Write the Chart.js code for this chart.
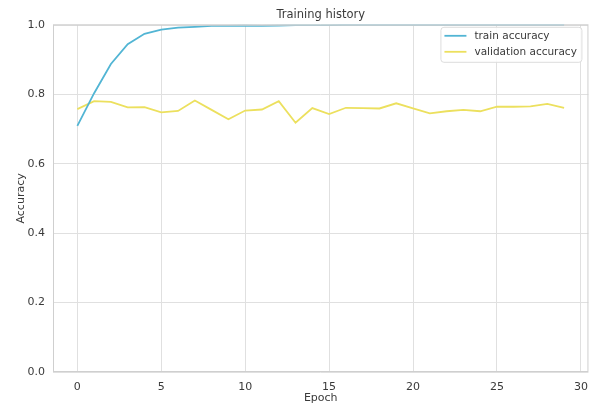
<!DOCTYPE html>
<html>
<head>
<meta charset="utf-8">
<script src="https://cdn.jsdelivr.net/npm/chart.js@4.4.1/dist/chart.umd.min.js"></script>
<style>
  html, body { margin: 0; padding: 0; background: #fff; }
  #wrap { width: 597px; height: 405px; }
</style>
</head>
<body>
<div id="wrap"><canvas id="chart"></canvas></div>
<script>
// values
const epochs = [0, 1, 2, 3, 4, 5, 6, 7, 8, 9, 10, 11, 12, 13, 14, 15, 16, 17, 18, 19, 20, 21, 22, 23, 24, 25, 26, 27, 28, 29];
const trainAcc = [0.709, 0.803, 0.887, 0.944, 0.974, 0.986, 0.992, 0.994, 0.997, 0.997, 0.998, 0.997, 0.998, 0.999, 0.999, 0.999, 1.0, 1.0, 1.0, 1.0, 1.0, 1.0, 1.0, 1.0, 1.0, 1.0, 1.0, 1.0, 1.0, 1.0];
const valAcc = [0.757, 0.780, 0.778, 0.762, 0.763, 0.748, 0.752, 0.782, 0.755, 0.728, 0.753, 0.756, 0.780, 0.718, 0.760, 0.743, 0.761, 0.760, 0.759, 0.774, 0.759, 0.745, 0.751, 0.755, 0.751, 0.764, 0.764, 0.765, 0.772, 0.761];
const xTicks = [0, 5, 10, 15, 20, 25, 30];
const yTicks = [0, 0.2, 0.4, 0.6, 0.8, 1.0];

const FONT = 'DejaVu Sans';
const TEXT = '#3a3a3a';

// frame around the plot, plus the boxed legend in the upper right
const framePlugin = {
  id: 'frame',
  afterDraw(chart) {
    const { ctx, chartArea: a } = chart;
    ctx.save();
    ctx.strokeStyle = '#cfcfcf';
    ctx.lineWidth = 1;
    ctx.strokeRect(a.left + 0.5, a.top + 0.5, a.right - a.left - 1, a.bottom - a.top - 1);

    const bx = a.right - 148, by = a.top + 2, bw = 141, bh = 35;
    ctx.fillStyle = 'rgba(255,255,255,0.85)';
    ctx.strokeStyle = '#dddddd';
    ctx.beginPath();
    ctx.roundRect(bx + 0.5, by + 0.5, bw, bh, 3);
    ctx.fill();
    ctx.stroke();

    ctx.font = '10.5px "' + FONT + '"';
    ctx.textBaseline = 'middle';
    chart.data.datasets.forEach((ds, i) => {
      const y = by + 9 + i * 16;
      ctx.strokeStyle = ds.borderColor;
      ctx.lineWidth = 1.8;
      ctx.beginPath();
      ctx.moveTo(bx + 4, y);
      ctx.lineTo(bx + 26, y);
      ctx.stroke();
      ctx.fillStyle = TEXT;
      ctx.fillText(ds.label, bx + 34, y);
    });
    ctx.restore();
  }
};

new Chart(document.getElementById('chart'), {
  type: 'line',
  data: {
    datasets: [
      {
        label: 'train accuracy',
        data: epochs.map((e, i) => ({ x: e, y: trainAcc[i] })),
        borderColor: '#52b5d4',
        borderWidth: 1.8,
        pointRadius: 0,
        tension: 0
      },
      {
        label: 'validation accuracy',
        data: epochs.map((e, i) => ({ x: e, y: valAcc[i] })),
        borderColor: '#ece05e',
        borderWidth: 1.8,
        pointRadius: 0,
        tension: 0
      }
    ]
  },
  options: {
    responsive: true,
    maintainAspectRatio: false,
    animation: false,
    layout: { padding: { left: 0, right: 7, top: 0, bottom: 0 } },
    plugins: {
      legend: { display: false },
      tooltip: { enabled: false },
      title: {
        display: true,
        text: 'Training history',
        fullSize: false,
        color: TEXT,
        font: { family: FONT, size: 11.5, weight: 'normal' },
        padding: { top: 8, bottom: 3 }
      }
    },
    scales: {
      x: {
        type: 'linear',
        min: -1.45,
        max: 30.45,
        afterBuildTicks(scale) { scale.ticks = xTicks.map(v => ({ value: v })); },
        afterFit(scale) { scale.height = 33; },
        grid: { color: '#e0e0e0', drawTicks: false },
        border: { display: false },
        ticks: { color: TEXT, padding: 9, font: { family: FONT, size: 11 } },
        title: {
          display: true,
          text: 'Epoch',
          color: TEXT,
          font: { family: FONT, size: 11 },
          padding: { top: 0, bottom: 0 }
        }
      },
      y: {
        min: 0,
        max: 1,
        afterBuildTicks(scale) { scale.ticks = yTicks.map(v => ({ value: v })); },
        afterFit(scale) { scale.width = 53; },
        grid: { color: '#e0e0e0', drawTicks: false },
        border: { display: false },
        ticks: {
          color: TEXT,
          padding: 8,
          font: { family: FONT, size: 11 },
          callback: v => v.toFixed(1)
        },
        title: {
          display: true,
          text: 'Accuracy',
          color: TEXT,
          font: { family: FONT, size: 11 },
          padding: { top: 15, bottom: 0 }
        }
      }
    }
  },
  plugins: [framePlugin]
});
</script>
</body>
</html>
